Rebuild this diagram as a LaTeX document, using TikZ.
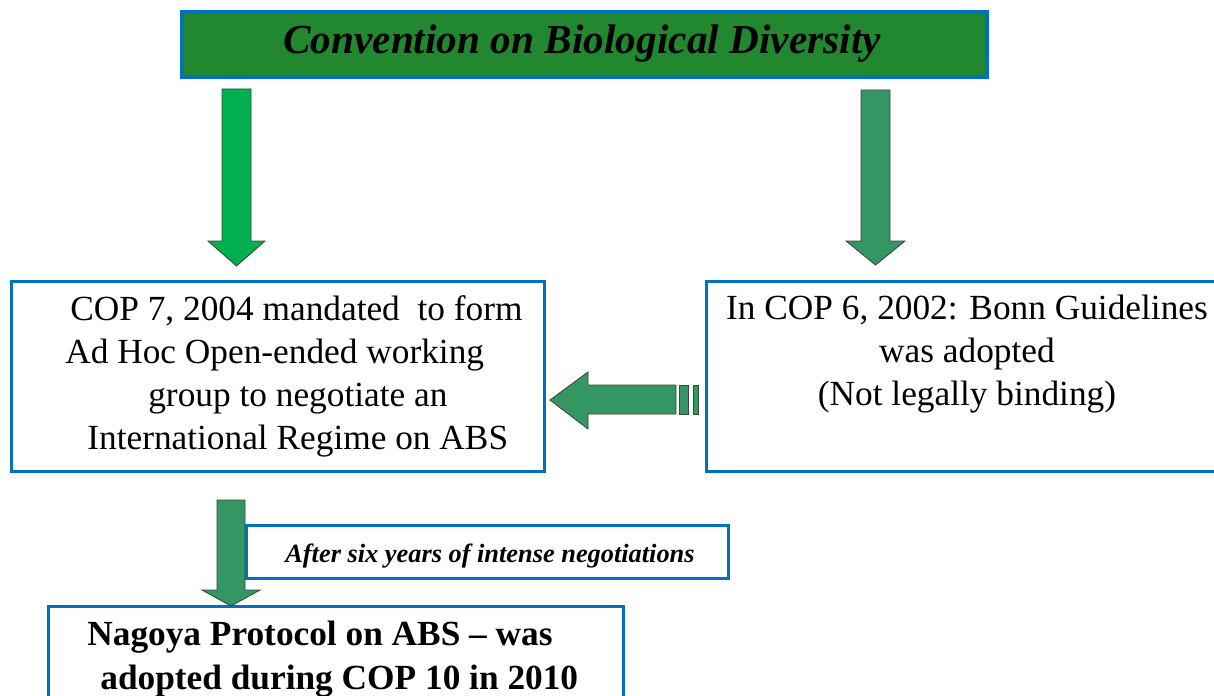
\documentclass[tikz,border=0pt]{standalone}
\usepackage{fontspec}
\setmainfont{Liberation Serif}
\usetikzlibrary{
    positioning
}
\definecolor{cbdgreen}{RGB}{34,136,48}
\definecolor{frameblue}{RGB}{0,112,192}
\definecolor{brightarrow}{RGB}{0,176,80}
\definecolor{seaarrow}{RGB}{51,150,99}
\definecolor{arrowedge}{RGB}{60,72,62}
\tikzset{
    frame/.style={
        rectangle,
        draw=frameblue,
        line width=1.7pt,
        fill=white,
        anchor=north west,
        inner sep=0pt
    },
    titlebox/.style={
        frame,
        fill=cbdgreen,
        line width=2.3pt
    },
    titletext/.style={
        font=\fontsize{23.5}{28}\selectfont\bfseries\itshape,
        inner sep=0pt
    },
    bodytext/.style={
        font=\fontsize{20.1}{24.5}\selectfont,
        inner sep=0pt,
        text=black
    },
    boldtext/.style={
        bodytext,
        font=\fontsize{20.1}{25}\selectfont\bfseries
    },
    notetext/.style={
        font=\fontsize{15}{18}\selectfont\bfseries\itshape,
        inner sep=0pt
    },
    blockarrow/.style={
        draw=arrowedge,
        line width=0.5pt,
        line join=miter
    }
}
% vertical block arrow: fill, x centre, top, head start, tip, shaft half, head half
\newcommand{\vblock}[7]{%
    \filldraw[blockarrow, fill=#1] (#2-#6,#3) -- (#2+#6,#3) -- (#2+#6,#4)
        -- (#2+#7,#4) -- (#2,#5) -- (#2-#7,#4) -- (#2-#6,#4) -- cycle;}

\begin{document}
\begin{tikzpicture}[x=0.02cm, y=-0.02cm]
\clip (0,0) rectangle (1214,696);
\fill[white] (0,0) rectangle (1214,696);

% Title
\node[titlebox, minimum width=16.1cm, minimum height=1.3cm] (cbd) at (180,10) {};
\node[titletext] (cbdtext) at (582,44) {Convention on Biological Diversity};

% Boxes of the second row
\node[frame, minimum width=10.66cm, minimum height=3.8cm] (cop7) at (10,280) {};
\node[bodytext, anchor=west, align=left] (cop7text) at (65,376)
    {\hspace*{0.1cm}COP 7, 2004 mandated\ \ to form\\
     Ad Hoc Open-ended working\\
     \hspace*{1.66cm}group to negotiate an\\
     \hspace*{0.44cm}International Regime on ABS};

\node[frame, minimum width=10.4cm, minimum height=3.8cm] (cop6) at (705,280) {};
\node[bodytext, align=center] (cop6text) at (967,354)
    {In COP 6, 2002: Bonn Guidelines\\
     was adopted\\
     (Not legally binding)};

% Down arrows from the title
\vblock{brightarrow}{236.5}{89}{241}{266}{14.5}{28.5}
\vblock{seaarrow}{875.5}{90}{241}{265}{14.5}{29.5}

% Striped arrow from COP 6 to COP 7
\filldraw[blockarrow, fill=seaarrow] (676,385) -- (588,385) -- (588,372)
    -- (550,400) -- (588,429) -- (588,414) -- (676,414) -- cycle;
\filldraw[blockarrow, fill=seaarrow] (679,385) rectangle (688,414);
\filldraw[blockarrow, fill=seaarrow] (693,385) rectangle (698,414);

% After six years
\node[frame, minimum width=9.64cm, minimum height=1.06cm] (after) at (245,524) {};
\node[notetext] (aftertext) at (490,556) {After six years of intense negotiations};

% Nagoya
\node[frame, minimum width=11.5cm, minimum height=2.1cm] (nagoya) at (47,605) {};
\node[boldtext, anchor=west, align=left] (nagoyatext) at (87,659)
    {Nagoya Protocol on ABS -- was\\
     \hspace*{0.26cm}adopted during COP 10 in 2010};

\vblock{seaarrow}{231}{500}{590}{606}{14}{29}
\end{tikzpicture}
\end{document}
